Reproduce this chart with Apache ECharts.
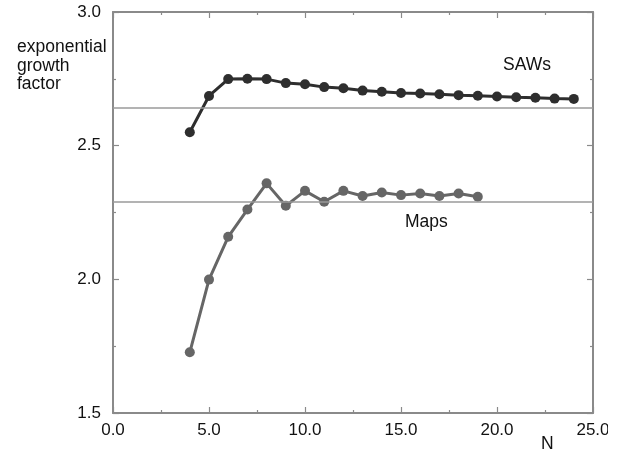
<!DOCTYPE html>
<html>
<head>
<meta charset="utf-8">
<script src="https://cdn.jsdelivr.net/npm/echarts@6/dist/echarts.min.js"></script>
<style>
html,body{margin:0;padding:0;background:#fff;}
#wrap{width:608px;height:453px;overflow:hidden;}
#chart{width:630px;height:453px;}
</style>
</head>
<body>
<div id="wrap"><div id="chart"></div></div>
<script>
const sawN = [4,5,6,7,8,9,10,11,12,13,14,15,16,17,18,19,20,21,22,23,24];
const sawValues = [2.550,2.686,2.749,2.750,2.749,2.734,2.730,2.719,2.715,2.706,2.702,2.697,2.695,2.692,2.689,2.687,2.684,2.681,2.679,2.676,2.675];
const mapN = [4,5,6,7,8,9,10,11,12,13,14,15,16,17,18,19];
const mapValues = [1.727,1.999,2.159,2.261,2.359,2.275,2.331,2.290,2.331,2.312,2.325,2.315,2.321,2.312,2.321,2.309];
const sawLimit = 2.638;
const mapLimit = 2.292;
const xTicks = [0,5,10,15,20,25];
const yTicks = [1.5,2.0,2.5,3.0];

const FONT = 'Liberation Sans, Arial, sans-serif';
const axisGray = '#8a8a8a';

const chart = echarts.init(document.getElementById('chart'), null, {renderer:'canvas'});

function pair(xs, ys){ return xs.map((x,i)=>[x, ys[i]]); }

const baseTick = {show:true, inside:true, length:6, lineStyle:{color:axisGray, width:1.2}};
const baseMinor = {show:true, splitNumber:2, length:3, lineStyle:{color:axisGray, width:1.2}};

chart.setOption({
  animation:false,
  backgroundColor:'#fff',
  grid:{left:113, top:12, width:480, height:401, containLabel:false},
  xAxis:[{
    type:'value', min:xTicks[0], max:xTicks[xTicks.length-1], interval:5,
    axisLine:{show:true, onZero:false, lineStyle:{color:axisGray, width:2}},
    axisTick:baseTick, minorTick:baseMinor, splitLine:{show:false},
    axisLabel:{color:'#111', fontSize:17, fontFamily:FONT, margin:9, formatter:v=>v.toFixed(1)}
  },{
    type:'value', position:'top', min:xTicks[0], max:xTicks[xTicks.length-1], interval:5,
    axisLine:{show:true, onZero:false, lineStyle:{color:axisGray, width:2}},
    axisTick:baseTick, minorTick:baseMinor, splitLine:{show:false}, axisLabel:{show:false}
  }],
  yAxis:[{
    type:'value', min:yTicks[0], max:yTicks[yTicks.length-1], interval:0.5,
    axisLine:{show:true, onZero:false, lineStyle:{color:axisGray, width:2}},
    axisTick:baseTick, minorTick:baseMinor, splitLine:{show:false},
    axisLabel:{color:'#111', fontSize:17, fontFamily:FONT, margin:12, formatter:v=>v.toFixed(1)}
  },{
    type:'value', position:'right', min:yTicks[0], max:yTicks[yTicks.length-1], interval:0.5,
    axisLine:{show:true, onZero:false, lineStyle:{color:axisGray, width:2}},
    axisTick:baseTick, minorTick:baseMinor, splitLine:{show:false}, axisLabel:{show:false}
  }],
  series:[{
    name:'SAWs', type:'line', data:pair(sawN, sawValues),
    symbol:'circle', symbolSize:10,
    lineStyle:{color:'#2e2e2e', width:3}, itemStyle:{color:'#2e2e2e'},
    markLine:{silent:true, symbol:'none', label:{show:false},
      lineStyle:{color:'#9a9a9a', width:1.5, type:'solid'},
      data:[{yAxis:sawLimit}, {yAxis:mapLimit}]},
    z:3
  },{
    name:'Maps', type:'line', data:pair(mapN, mapValues),
    symbol:'circle', symbolSize:10,
    lineStyle:{color:'#666666', width:3}, itemStyle:{color:'#666666'},
    z:3
  }],
  graphic:[
    {type:'text', left:17, top:38, style:{text:'exponential\ngrowth\nfactor', font:'17.5px '+FONT, fill:'#111', lineHeight:18.5}},
    {type:'text', left:503, top:56, style:{text:'SAWs', font:'17.5px '+FONT, fill:'#111'}},
    {type:'text', left:405, top:213, style:{text:'Maps', font:'17.5px '+FONT, fill:'#111'}},
    {type:'text', left:541, top:435, style:{text:'N', font:'17.5px '+FONT, fill:'#111'}}
  ]
});
</script>
</body>
</html>
